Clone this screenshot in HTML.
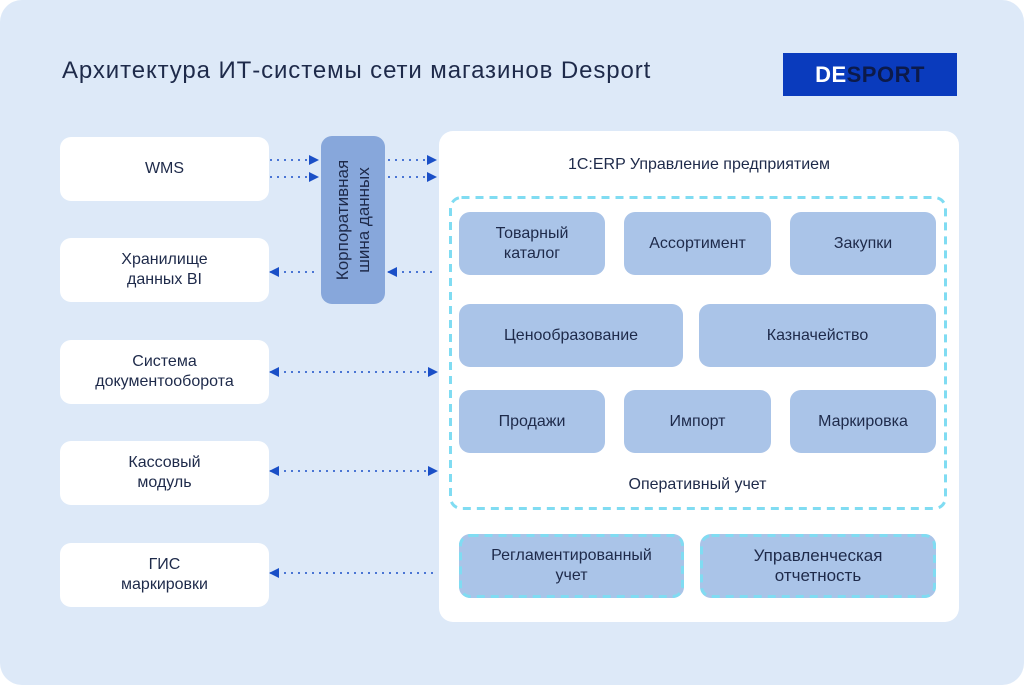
<!DOCTYPE html>
<html><head><meta charset="utf-8"><style>
body{margin:0;width:1024px;height:685px;background:#fff;position:relative;overflow:hidden;font-family:"Liberation Sans",sans-serif;color:#1e2a4a}
.abs{position:absolute;box-sizing:border-box}
.bg{left:0;top:0;width:1024px;height:685px;background:#dde9f8;border-radius:22px}
.lb{background:#fff;border-radius:11px;left:60px;width:209px;height:64px;display:flex;align-items:center;justify-content:center;text-align:center;font-size:16px;line-height:20px}
.m{background:#aac4e8;border-radius:11px;display:flex;align-items:center;justify-content:center;text-align:center;font-size:16px;line-height:20px}
</style></head><body>
<div class="abs bg"></div>
<div class="abs" style="left:62px;top:57px;font-size:24px;letter-spacing:0.9px;">Архитектура ИТ-системы сети магазинов Desport</div>
<div class="abs" style="left:783px;top:53px;width:174px;height:43px;background:#0a3bbd;display:flex;align-items:center;justify-content:center;font-weight:bold;font-size:22px;letter-spacing:0.5px"><span style="color:#fff">DE</span><span style="color:#0c1a4a">SPORT</span></div>
<div class="abs lb" style="top:137px">WMS</div>
<div class="abs lb" style="top:238px">Хранилище<br>данных BI</div>
<div class="abs lb" style="top:340px">Система<br>документооборота</div>
<div class="abs lb" style="top:441px">Кассовый<br>модуль</div>
<div class="abs lb" style="top:543px">ГИС<br>маркировки</div>
<div class="abs" style="left:321px;top:136px;width:64px;height:168px;background:#87a7db;border-radius:11px"></div>
<div class="abs" style="left:353px;top:220px;width:0;height:0"><div style="position:absolute;left:-100px;top:-21px;width:200px;height:42px;transform:rotate(-90deg);text-align:center;font-size:17px;line-height:21px">Корпоративная<br>шина данных</div></div>
<div class="abs" style="left:439px;top:131px;width:520px;height:491px;background:#fff;border-radius:14px"></div>
<div class="abs" style="left:439px;top:156px;width:520px;text-align:center;font-size:16px">1С:ERP Управление предприятием</div>
<div class="abs m" style="left:459px;top:212px;width:146px;height:63px">Товарный<br>каталог</div>
<div class="abs m" style="left:624px;top:212px;width:147px;height:63px">Ассортимент</div>
<div class="abs m" style="left:790px;top:212px;width:146px;height:63px">Закупки</div>
<div class="abs m" style="left:459px;top:304px;width:224px;height:63px">Ценообразование</div>
<div class="abs m" style="left:699px;top:304px;width:237px;height:63px">Казначейство</div>
<div class="abs m" style="left:459px;top:390px;width:146px;height:63px">Продажи</div>
<div class="abs m" style="left:624px;top:390px;width:147px;height:63px">Импорт</div>
<div class="abs m" style="left:790px;top:390px;width:146px;height:63px">Маркировка</div>
<div class="abs" style="left:449px;top:476px;width:497px;text-align:center;font-size:16px">Оперативный учет</div>
<div class="abs m" style="left:459px;top:534px;width:225px;height:64px">Регламентированный<br>учет</div>
<div class="abs m" style="left:700px;top:534px;width:236px;height:64px;font-size:17px">Управленческая<br>отчетность</div>
<svg class="abs" style="left:0;top:0" width="1024" height="685">
<defs><marker id="a" markerWidth="10" markerHeight="10" refX="9" refY="5" orient="auto" markerUnits="userSpaceOnUse"><path d="M0,0 L10,5 L0,10 z" fill="#1a4fc7"/></marker>
<marker id="b" markerWidth="10" markerHeight="10" refX="1" refY="5" orient="auto" markerUnits="userSpaceOnUse"><path d="M10,0 L0,5 L10,10 z" fill="#1a4fc7"/></marker></defs>
<g fill="none" stroke="#80dcf2" stroke-width="3" stroke-dasharray="8,6">
<rect x="450.5" y="197.5" width="495" height="311" rx="11"/>
<rect x="460.5" y="535.5" width="222" height="61" rx="10"/>
<rect x="701.5" y="535.5" width="233" height="61" rx="10"/>
</g>
<g stroke="#1a4fc7" stroke-width="1.5" stroke-dasharray="2,5" fill="none">
<line x1="270" y1="160" x2="318" y2="160" marker-end="url(#a)"/>
<line x1="270" y1="177" x2="318" y2="177" marker-end="url(#a)"/>
<line x1="388" y1="160" x2="436" y2="160" marker-end="url(#a)"/>
<line x1="388" y1="177" x2="436" y2="177" marker-end="url(#a)"/>
<line x1="270" y1="272" x2="318" y2="272" marker-start="url(#b)"/>
<line x1="388" y1="272" x2="436" y2="272" marker-start="url(#b)"/>
<line x1="270" y1="372" x2="437" y2="372" marker-start="url(#b)" marker-end="url(#a)"/>
<line x1="270" y1="471" x2="437" y2="471" marker-start="url(#b)" marker-end="url(#a)"/>
<line x1="270" y1="573" x2="437" y2="573" marker-start="url(#b)"/>
</g></svg>
</body></html>
